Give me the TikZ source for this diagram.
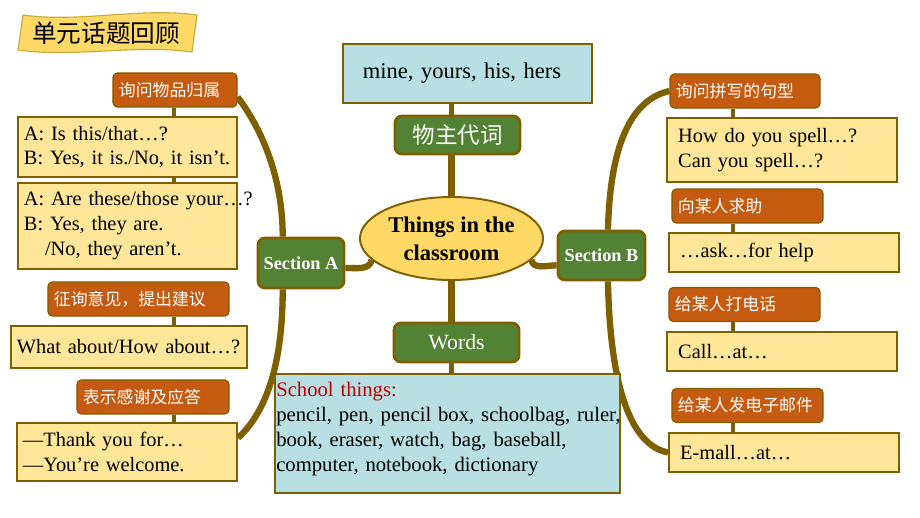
\documentclass[tikz,border=0pt]{standalone}
\usepackage{fontspec}
\setmainfont{Liberation Serif}
\newfontfamily\cjk{Noto Sans CJK SC}
\usetikzlibrary{shapes.geometric,backgrounds}
\frenchspacing

\definecolor{brn}{HTML}{7F6000}
\definecolor{orng}{HTML}{C55A11}
\definecolor{grn}{HTML}{548235}
\definecolor{paleyel}{HTML}{FFE699}
\definecolor{gold}{HTML}{FFD966}
\definecolor{paleblue}{HTML}{B8DFE3}
\definecolor{redtxt}{HTML}{C00000}

\tikzset{
  topic/.style={draw=brn, line width=0.8pt, fill=orng, rounded corners=3pt,
    text=white, font=\cjk\fontsize{12}{14}\selectfont, align=left,
    minimum height=0.85cm, inner xsep=0.15cm},
  note/.style={draw=brn, line width=1.4pt, fill=paleyel, align=left,
    font=\fontsize{14.5}{17.7}\selectfont, inner xsep=0.15cm},
  rnote/.style={note, inner xsep=0.28cm},
  section/.style={draw=brn, line width=2pt, fill=grn, rounded corners=5pt,
    text=white, font=\bfseries\fontsize{13}{15}\selectfont, inner xsep=2pt},
  stem/.style={draw=brn, line width=2.2pt},
  branch/.style={draw=brn, line width=4.5pt},
}

\begin{document}
\begin{tikzpicture}[x=0.025cm, y=-0.025cm]
    \useasboundingbox (0,0) rectangle (920,518);

    \filldraw [fill=gold, draw=gold!60!brn, line width=0.8pt]
    (23,15) .. controls (80,23) and (140,7) .. (197,15)
    -- (192,52) .. controls (135,44) and (75,58) .. (18,50) -- cycle;
    \node [font=\cjk\fontsize{17.5}{20}\selectfont] (title) at (106,33) {单元话题回顾};

    \node [topic, text width=2.8cm] (o1) at (175,90) {询问物品归属};
    \node [note, text width=5.175cm, minimum height=1.5cm] (n1) at (127.5,147)
    {A: Is this/that…?\\B: Yes, it is./No, it isn’t.};
    \node [note, text width=5.175cm, minimum height=2.15cm] (n2) at (127.5,226)
    {\mbox{A: Are these/those your…?}\\B: Yes, they are.\\\hspace*{15pt}/No, they aren’t.};
    \node [topic, text width=4.225cm] (o2) at (138.5,299) {征询意见，提出建议};
    \node [note, text width=5.6cm, minimum height=1.05cm] (n3) at (129,347)
    {What about/How about…?};
    \node [topic, text width=3.5cm] (o3) at (153,397) {表示感谢及应答};
    \node [note, text width=5.2cm, minimum height=1.45cm] (n4) at (127,452)
    {—Thank you for…\\—You’re welcome.};

    \node [section, minimum width=2.15cm, minimum height=1.25cm] (secA) at (301,263) {Section A};
    \node [section, minimum width=2.175cm, minimum height=1.225cm] (secB) at (601.5,255.5) {Section B};

    \node [ellipse, draw=brn, line width=1.4pt, fill=gold, minimum width=4.575cm,
    minimum height=2.075cm, inner sep=0pt, align=center,
    font=\bfseries\fontsize{16}{20}\selectfont] (core) at (451.5,238.5) {Things in the\\classroom};

    \node [section, font=\cjk\fontsize{16}{18}\selectfont, minimum width=3.125cm,
    minimum height=0.95cm] (pron) at (457.5,135) {物主代词};
    \node [draw=brn, line width=1.4pt, fill=paleblue, align=left, text width=5.225cm,
    inner xsep=0.5cm, minimum height=1.475cm, font=\fontsize{16}{19}\selectfont]
    (mine) at (467.5,73.5) {mine, yours, his, hers};

    \node [section, font=\fontsize{15.5}{18}\selectfont, minimum width=3.125cm,
    minimum height=0.975cm] (words) at (456.5,342.5) {Words};
    \node [draw=brn, line width=1.4pt, fill=paleblue, minimum width=8.625cm,
    minimum height=2.975cm] (wbox) at (447.5,433.5) {};
    \node [anchor=north west, align=left, text width=8.55cm, inner xsep=0.05cm,
    inner ysep=0.22cm, font=\fontsize{14.7}{17.7}\selectfont] (wlist) at (wbox.north west)
    {\textcolor{redtxt}{School things:}\\\mbox{pencil, pen, pencil box, schoolbag, ruler,}\\
    book, eraser, watch, bag, baseball,\\computer, notebook, dictionary};

    \node [topic, text width=3.45cm] (r1) at (745,91) {询问拼写的句型};
    \node [rnote, text width=5.19cm, minimum height=1.6cm] (m1) at (782,150)
    {How do you spell…?\\Can you spell…?};
    \node [topic, text width=3.475cm] (r2) at (747.5,206) {向某人求助};
    \node [rnote, text width=5.19cm, minimum height=0.975cm] (m2) at (784,252.5)
    {…ask…for help};
    \node [topic, text width=3.475cm] (r3) at (744.5,304.5) {给某人打电话};
    \node [rnote, text width=5.19cm, minimum height=0.975cm] (m3) at (782,351.5)
    {Call…at…};
    \node [topic, text width=3.475cm] (r4) at (747.5,405.5) {给某人发电子邮件};
    \node [rnote, text width=5.19cm, minimum height=0.975cm] (m4) at (784,452.5)
    {E-mall…at…};

    \begin{scope}[on background layer]
    \coordinate (lx) at (174,0);
    \coordinate (rx) at (733,0);

    \draw [branch] ([yshift=-5pt]o1.east) .. controls +(25,33) and +(0,-58) .. ([xshift=-13pt]secA.north);
    \draw [branch] ([xshift=-13pt]secA.south) .. controls +(0,82) and +(25,-23) .. ([yshift=10pt]n4.east);
    \draw [branch] ([xshift=4.6pt]secB.north) .. controls +(2,-81) and +(-40,9) .. (r1.west);
    \draw [branch] ([xshift=4.6pt]secB.south) .. controls +(2,100) and +(-39,-7.5) .. (m4.west);
    \draw [branch] ([yshift=-3.5pt]secA.east) to [out=0, in=260] (core.195);
    \draw [branch] (core.345) to [out=-80, in=180] ([yshift=-7pt]secB.west);

    \draw [branch] (core.north) -- (pron.south -| core.north);
    \draw [branch, line width=3.5pt] (pron.north -| core.north) -- (mine.south -| core.north);
    \draw [branch] (core.south) -- (words.north -| core.south);
    \draw [branch, line width=3.5pt] (words.south -| core.south) -- (wbox.north -| core.south);

    \draw [stem] (o1.south -| lx) -- (n1.north -| lx);
    \draw [stem] (n1.south -| lx) -- (n2.north -| lx);
    \draw [stem] (o2.south -| lx) -- (n3.north -| lx);
    \draw [stem] (o3.south -| lx) -- (n4.north -| lx);
    \draw [stem] (r1.south -| rx) -- (m1.north -| rx);
    \draw [stem] (r2.south -| rx) -- (m2.north -| rx);
    \draw [stem] (r3.south -| rx) -- (m3.north -| rx);
    \draw [stem] (r4.south -| rx) -- (m4.north -| rx);
    \end{scope}
\end{tikzpicture}
\end{document}
